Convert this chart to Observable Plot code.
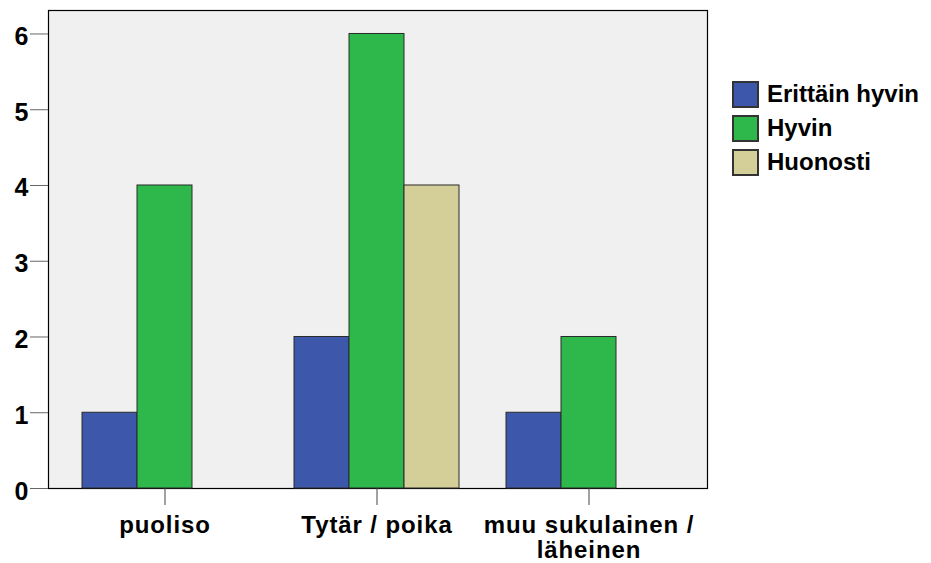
<!DOCTYPE html>
<html>
<head>
<meta charset="utf-8">
<script src="https://cdn.jsdelivr.net/npm/d3@7"></script>
<script src="https://cdn.jsdelivr.net/npm/@observablehq/plot@0.6"></script>
<style>
  html, body { margin: 0; padding: 0; background: #fff; }
  #wrap { position: relative; width: 931px; height: 563px; }
  #legend { position: absolute; left: 733px; top: 80px; }
  #legend [class$="-swatch"] { padding-bottom: 6px !important; }
  #legend svg { margin-right: 9px !important; }
  #legend svg rect { stroke: #333; stroke-width: 2px; }
  .fx-labels text { letter-spacing: 0.9px; }
</style>
</head>
<body>
<div id="wrap"><div id="legend"></div></div>
<script>
// Groups on the x axis (with display labels) and the rating series
const categories = ["puoliso", "Tytär / poika", "muu sukulainen / läheinen"];
const categoryLabels = ["puoliso", "Tytär / poika", "muu sukulainen /\nläheinen"];
const seriesNames = ["Erittäin hyvin", "Hyvin", "Huonosti"];

// Counts per group for each series
const erittainHyvin = [1, 2, 1];
const hyvin = [4, 6, 2];
const huonosti = [0, 4, 0];

const yTicks = [0, 1, 2, 3, 4, 5, 6];
const seriesColors = ["#3d58ab", "#2eb84b", "#d4cf98"];

// Long table for the grouped bars; zero counts draw no bar
const seriesValues = [erittainHyvin, hyvin, huonosti];
const rows = [];
categories.forEach((c, i) => {
  seriesNames.forEach((s, j) => {
    const v = seriesValues[j][i];
    if (v > 0) rows.push({group: c, series: s, value: v});
  });
});

const font = "'Liberation Sans', Arial, sans-serif";

const chart = Plot.plot({
  width: 931,
  height: 563,
  marginLeft: 47,
  marginRight: 224,
  marginTop: 10,
  marginBottom: 75,
  style: {fontFamily: font, fontSize: "24px", fontWeight: "bold", color: "#000", background: "transparent"},
  fx: {domain: categories, paddingInner: 0.21, paddingOuter: 0.156, label: null},
  x: {domain: seriesNames, padding: 0, axis: null},
  y: {domain: [0, 6.31], axis: null},
  color: {domain: seriesNames, range: seriesColors},
  marks: [
    // plot-area background and border spanning all groups
    Plot.frame({facet: "super", fill: "#f0f0f0", stroke: "#000", strokeWidth: 1.2, insetLeft: -33, insetRight: -35}),
    Plot.barY(rows, {fx: "group", x: "series", y: "value", fill: "series", stroke: "#2a2a2a", strokeWidth: 1}),
    // value axis on the outer left edge: tick marks, then labels nudged slightly down
    Plot.axisY({ticks: yTicks, tickFormat: () => "", tickSize: 18, dx: -33, stroke: "#666", label: null}),
    Plot.axisY({ticks: yTicks, tickFormat: d3.format("d"), tickSize: 0, tickPadding: 20, dx: -33, dy: 3, fill: "#000", label: null, fontSize: 25, textStroke: "none"}),
    Plot.axisFx({
      anchor: "bottom", tickSize: 17, tickPadding: 9, stroke: "#444", fill: "#000", label: null,
      className: "fx-labels", lineHeight: 1.06,
      tickFormat: (d) => categoryLabels[categories.indexOf(d)]
    })
  ]
});
document.getElementById("wrap").prepend(chart);

const legend = Plot.legend({
  color: {domain: seriesNames, range: seriesColors},
  legend: "swatches",
  columns: 1,
  swatchSize: 25,
  style: {fontFamily: font, fontSize: "24px", fontWeight: "bold", color: "#000"}
});
document.getElementById("legend").append(legend);
</script>
</body>
</html>
